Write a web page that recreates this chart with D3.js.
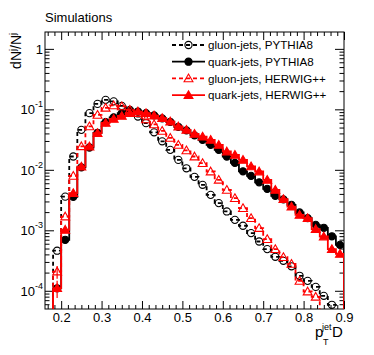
<!DOCTYPE html>
<html>
<head>
<meta charset="utf-8">
<script src="https://cdn.jsdelivr.net/npm/d3@7"></script>
<style>
  body { margin: 0; background: #fff; }
  text { font-family: "Liberation Sans", Arial, Helvetica, sans-serif; }
</style>
</head>
<body>
<div id="chart"></div>
<script>
// --- data: bin centres (width 0.02) and normalised counts per sample ---
const binCenters = [0.19, 0.21, 0.23, 0.25, 0.27, 0.29, 0.31, 0.33, 0.35, 0.37,
  0.39, 0.41, 0.43, 0.45, 0.47, 0.49, 0.51, 0.53, 0.55, 0.57,
  0.59, 0.61, 0.63, 0.65, 0.67, 0.69, 0.71, 0.73, 0.75, 0.77,
  0.79, 0.81, 0.83, 0.85, 0.87, 0.89];
const binWidth = 0.02;

const gluonPythia = [4.6e-4, 3.6e-3, 0.0166, 0.0458, 0.0865, 0.123, 0.1436, 0.1356, 0.114, 0.098,
  0.076, 0.0591, 0.0417, 0.0296, 0.0214, 0.0146, 0.0106, 0.00766, 0.00565, 0.00386,
  0.00282, 0.00205, 0.00149, 0.00119, 0.00090, 0.000653, 0.000489, 0.000365, 0.000313, 0.000254,
  0.000177, 0.000146, 0.000116, 0.0000826, 0.0000587, 0];
const quarkPythia = [1.1e-4, 6.97e-4, 3.58e-3, 0.0110, 0.0234, 0.0409, 0.0614, 0.0738, 0.0865, 0.0944,
  0.0920, 0.0865, 0.0796, 0.0710, 0.0621, 0.0514, 0.0450, 0.0372, 0.0313, 0.0259,
  0.0214, 0.0166, 0.0130, 0.00945, 0.00796, 0.00621, 0.00485, 0.00372, 0.00325, 0.00264,
  0.00197, 0.00159, 0.00123, 0.00110, 0.000796, 0.000575];
const gluonHerwig = [2.08e-4, 1.69e-3, 7.96e-3, 0.0245, 0.0524, 0.0811, 0.106, 0.1164, 0.112, 0.098,
  0.0865, 0.0684, 0.0565, 0.0441, 0.0338, 0.0259, 0.0210, 0.0166, 0.0129, 0.00938,
  0.00684, 0.00467, 0.00341, 0.00233, 0.00159, 0.00109, 0.000716, 0.000489, 0.000360, 0.000279,
  0.000146, 0.0000973, 0.0000796, 0, 0, 0];
const quarkHerwig = [1.11e-4, 1.02e-3, 4.12e-3, 0.0113, 0.0243, 0.0404, 0.0598, 0.0697, 0.0781, 0.0865,
  0.0920, 0.0865, 0.0790, 0.0716, 0.0629, 0.0520, 0.0458, 0.0394, 0.0355, 0.0313,
  0.0259, 0.0201, 0.0177, 0.0146, 0.0114, 0.00938, 0.00684, 0.00467, 0.00328, 0.00247,
  0.00180, 0.00159, 0.00105, 0.000790, 0.000489, 0.000409];
// statistical errors (only visible in the first bin)
const errGluonHerwig = [5e-5];
const errQuarkHerwig = [3.5e-5];

const xTicks = [0.2, 0.3, 0.4, 0.5, 0.6, 0.7, 0.8, 0.9];
const yTicks = [1e-4, 1e-3, 1e-2, 1e-1, 1];
const yTickExp = [-4, -3, -2, -1, 0];
const legendLabels = ["gluon-jets, PYTHIA8", "quark-jets, PYTHIA8", "gluon-jets, HERWIG++", "quark-jets, HERWIG++"];

// --- sizes ---
const W = 374, H = 355;
const L = 45, R = 344, T = 32, B = 309;

const svg = d3.select("#chart").append("svg")
  .attr("width", W).attr("height", H);

const x = d3.scaleLinear().domain([0.16, 0.9]).range([L, R]);
const y = d3.scaleLog().domain([5e-5, 1.9]).range([B, T]);

// minor ticks
const xMinor = d3.range(-3, 45).map(i => 0.2 + i * 0.1 / 6)
  .filter(v => v > 0.16 && v < 0.9 && Math.abs(v * 10 - Math.round(v * 10)) > 1e-6);
const yMinor = [];
for (let e = -5; e <= 0; e++) for (let k = 2; k <= 9; k++) {
  const v = k * Math.pow(10, e);
  if (v > 5e-5 && v < 1.9) yMinor.push(v);
}

const axisG = svg.append("g");
const tickStyle = g => { g.select(".domain").remove(); g.selectAll("line").attr("stroke", "#000"); };

// bottom
axisG.append("g").attr("transform", `translate(0,${B})`)
  .call(d3.axisBottom(x).tickValues(xTicks).tickSizeInner(-8).tickSizeOuter(0).tickPadding(4)
    .tickFormat(d3.format(".1f")))
  .call(tickStyle)
  .call(g => g.selectAll("text").attr("font-size", 13).attr("fill", "#000")
    .style("font-family", "Liberation Sans, Arial, sans-serif"));
axisG.append("g").attr("transform", `translate(0,${B})`)
  .call(d3.axisBottom(x).tickValues(xMinor).tickSize(-4).tickFormat(""))
  .call(tickStyle);
// top
axisG.append("g").attr("transform", `translate(0,${T})`)
  .call(d3.axisTop(x).tickValues(xTicks).tickSize(-8).tickFormat(""))
  .call(tickStyle);
axisG.append("g").attr("transform", `translate(0,${T})`)
  .call(d3.axisTop(x).tickValues(xMinor).tickSize(-4).tickFormat(""))
  .call(tickStyle);
// left
axisG.append("g").attr("transform", `translate(${L},0)`)
  .call(d3.axisLeft(y).tickValues(yTicks).tickSize(-9).tickFormat(""))
  .call(tickStyle);
axisG.append("g").attr("transform", `translate(${L},0)`)
  .call(d3.axisLeft(y).tickValues(yMinor).tickSize(-4.5).tickFormat(""))
  .call(tickStyle);
// right
axisG.append("g").attr("transform", `translate(${R},0)`)
  .call(d3.axisRight(y).tickValues(yTicks).tickSize(-9).tickFormat(""))
  .call(tickStyle);
axisG.append("g").attr("transform", `translate(${R},0)`)
  .call(d3.axisRight(y).tickValues(yMinor).tickSize(-4.5).tickFormat(""))
  .call(tickStyle);

// y labels 10^n
yTicks.forEach((v, i) => {
  const t = svg.append("text")
    .attr("x", 43).attr("y", y(v) + 5)
    .attr("text-anchor", "end")
    .attr("font-size", 13);
  if (yTickExp[i] === 0) { t.text("1"); return; }
  t.append("tspan").text("10");
  t.append("tspan").attr("dy", -7).attr("font-size", 9).text(yTickExp[i]);
});

// frame
svg.append("rect")
  .attr("x", L).attr("y", T).attr("width", R - L).attr("height", B - T)
  .attr("fill", "none").attr("stroke", "#000").attr("stroke-width", 1);

// --- histograms ---
svg.append("clipPath").attr("id", "frame")
  .append("rect").attr("x", L).attr("y", T).attr("width", R - L).attr("height", B - T);
const plot = svg.append("g").attr("clip-path", "url(#frame)");

const yMin = y.domain()[0];
const yc = v => y(Math.max(v, yMin * 0.8));

const series = [
  { vals: gluonPythia, color: "#000", dash: "4,3", marker: "circle", filled: false },
  { vals: quarkPythia, color: "#000", dash: null, marker: "circle", filled: true },
  { vals: gluonHerwig, color: "#ff0000", dash: "4,3", marker: "triangle", filled: false, err: errGluonHerwig },
  { vals: quarkHerwig, color: "#ff0000", dash: null, marker: "triangle", filled: true, err: errQuarkHerwig }
];

const stepLine = d3.line().x(d => x(d[0])).y(d => yc(d[1])).curve(d3.curveStepAfter);

const drawMarker = (g, s, cx, cy) => {
  if (s.marker === "circle") {
    g.append("circle").attr("cx", cx).attr("cy", cy).attr("r", 3.6)
      .attr("fill", s.filled ? s.color : "none")
      .attr("stroke", s.color).attr("stroke-width", 1.1);
  } else {
    g.append("path")
      .attr("d", d3.symbol(d3.symbolTriangle, 34)())
      .attr("transform", `translate(${cx},${cy + 0.8})`)
      .attr("fill", s.filled ? s.color : "none")
      .attr("stroke", s.color).attr("stroke-width", 1.1);
  }
};

series.forEach(s => {
  const pts = [[binCenters[0] - binWidth / 2, 0]];
  binCenters.forEach((c, i) => pts.push([c - binWidth / 2, s.vals[i]]));
  const last = binCenters[binCenters.length - 1] + binWidth / 2;
  pts.push([last, s.vals[s.vals.length - 1]]);
  pts.push([last, 0]);
  // vertical start from the bottom
  const path = [[pts[0][0], 0]].concat(pts.slice(1));
  plot.append("path")
    .attr("d", stepLine(path))
    .attr("fill", "none")
    .attr("stroke", s.color)
    .attr("stroke-width", 1.8)
    .attr("stroke-dasharray", s.dash);

  const mg = plot.append("g");
  binCenters.forEach((c, i) => {
    const v = s.vals[i];
    if (!(v > yMin)) return;
    if (s.err && s.err[i]) {
      mg.append("line")
        .attr("x1", x(c)).attr("x2", x(c))
        .attr("y1", y(v + s.err[i])).attr("y2", y(Math.max(v - s.err[i], yMin)))
        .attr("stroke", s.color).attr("stroke-width", 1.2);
    }
    drawMarker(mg, s, x(c), y(v));
  });
});

// --- legend ---
const leg = svg.append("g");
legendLabels.forEach((lab, i) => {
  const s = series[i];
  const cy = 45 + i * 16.7;
  leg.append("line")
    .attr("x1", 172).attr("x2", 205).attr("y1", cy).attr("y2", cy)
    .attr("stroke", s.color).attr("stroke-width", 1.8)
    .attr("stroke-dasharray", s.dash);
  drawMarker(leg, s, 188.5, cy);
  leg.append("text").attr("x", 208).attr("y", cy + 4.3)
    .attr("font-size", 11.6).text(lab);
});

// --- titles ---
svg.append("text").attr("x", 45).attr("y", 22).attr("font-size", 13).text("Simulations");

const yt = svg.append("text")
  .attr("transform", "translate(21,33) rotate(-90)")
  .attr("text-anchor", "end").attr("font-size", 14);
yt.append("tspan").text("dN");
yt.append("tspan").attr("dy", -5).attr("font-size", 9).text("j");
yt.append("tspan").attr("dy", 5).text("/N");
yt.append("tspan").attr("dy", -5).attr("font-size", 9).text("j");

const xt = svg.append("g").attr("font-size", 14);
xt.append("text").attr("x", 315).attr("y", 337).attr("font-size", 15).text("p");
xt.append("text").attr("x", 323).attr("y", 345).attr("font-size", 9).text("T");
xt.append("text").attr("x", 322).attr("y", 330).attr("font-size", 9).text("jet");
xt.append("text").attr("x", 332).attr("y", 337).attr("font-size", 15).text("D");
</script>
</body>
</html>
